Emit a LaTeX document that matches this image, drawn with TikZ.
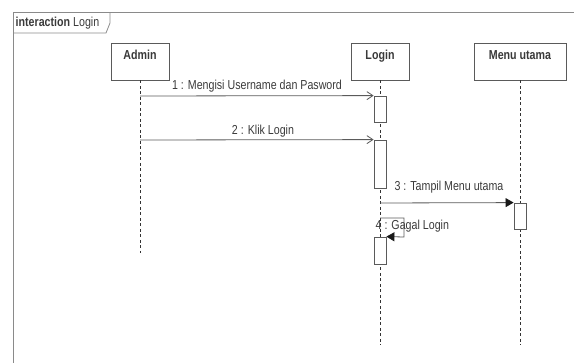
\documentclass[tikz,border=0pt]{standalone}
\usepackage{fontspec}
\setmainfont[FakeStretch=0.82]{Liberation Sans}
\usetikzlibrary{arrows.meta}
\definecolor{linec}{HTML}{5A5A5A}
\definecolor{framec}{HTML}{8A8A8A}
\definecolor{textc}{HTML}{3A3A3A}
\begin{document}
\begin{tikzpicture}[x=1pt,y=-1pt,
  every node/.style={text=textc, font=\fontsize{13}{15}\selectfont},
  lifebox/.style={draw=linec, line width=0.8pt, fill=white, minimum height=37pt, inner sep=0pt},
  actbox/.style={draw=linec, line width=0.8pt, fill=white, minimum width=12pt, inner sep=0pt},
  lifeline/.style={draw=black!80, line width=0.6pt, dash pattern=on 3pt off 2.5pt},
  msgopen/.style={draw=linec, line width=0.8pt, -{Straight Barb[length=6pt,width=8pt]}},
  msgfill/.style={draw=linec, line width=0.8pt, -{Triangle[length=8pt,width=9pt,color=black!90]}},
  msglabel/.style={inner sep=0pt, anchor=base}]
\useasboundingbox (0,0) rectangle (574,363);
% frame
\draw[framec, line width=1pt] (13,363) -- (13,13) -- (574,13);
\draw[framec, line width=0.8pt] (13,33) -- (106,33) -- (110,23) -- (110,13);
\node[anchor=base west, inner sep=0pt] (ftitle) at (15.5,27) {\textbf{interaction} Login};
% participants
\node[lifebox, minimum width=58pt] (admin) at (140,61.5) {};
\node[lifebox, minimum width=58pt] (login) at (380,61.5) {};
\node[lifebox, minimum width=92pt] (menu) at (520,61.5) {};
\node[anchor=base, inner sep=0pt] (admint) at (140,59.5) {\textbf{Admin}};
\node[anchor=base, inner sep=0pt] (logint) at (380,59.5) {\textbf{Login}};
\node[anchor=base, inner sep=0pt] (menut) at (520,59.5) {\textbf{Menu utama}};
% lifeline ends
\coordinate (adminend) at (140,253);
\coordinate (loginend) at (380,345);
\coordinate (menuend) at (520,345);
\draw[lifeline] (admin.south) -- (adminend);
\draw[lifeline] (login.south) -- (loginend);
\draw[lifeline] (menu.south) -- (menuend);
% activations
\node[actbox, minimum height=26pt] (act1) at (380,109) {};
\node[actbox, minimum height=48pt] (act2) at (380,164) {};
\node[actbox, minimum height=27pt] (act3) at (380,250.5) {};
\node[actbox, minimum height=26pt] (actm) at (520,216) {};
% message sources
\coordinate (m1s) at (140,96);
\coordinate (m2s) at (140,140);
\coordinate (m3s) at (380,203);
\coordinate (m4s) at (380,218);
\coordinate (m4a) at (404,218);
\coordinate (m4b) at (404,237);
% messages
\draw[msgopen] (m1s) -- (act1.north west);
\draw[msgopen] (m2s) -- (act2.north west);
\draw[msgfill] (m3s) -- (actm.north west);
\draw[msgfill] (m4s) -- (m4a) -- (m4b) -- (act3.north east);
% labels
\node[msglabel] (l1) at (257,90) {1 : Mengisi Username dan Pasword};
\node[msglabel] (l2) at (263,134.3) {2 : Klik Login};
\node[msglabel] (l3) at (449,190.5) {3 : Tampil Menu utama};
\node[msglabel, anchor=base west] (l4) at (375.5,230) {4 : Gagal Login};
\end{tikzpicture}
\end{document}
